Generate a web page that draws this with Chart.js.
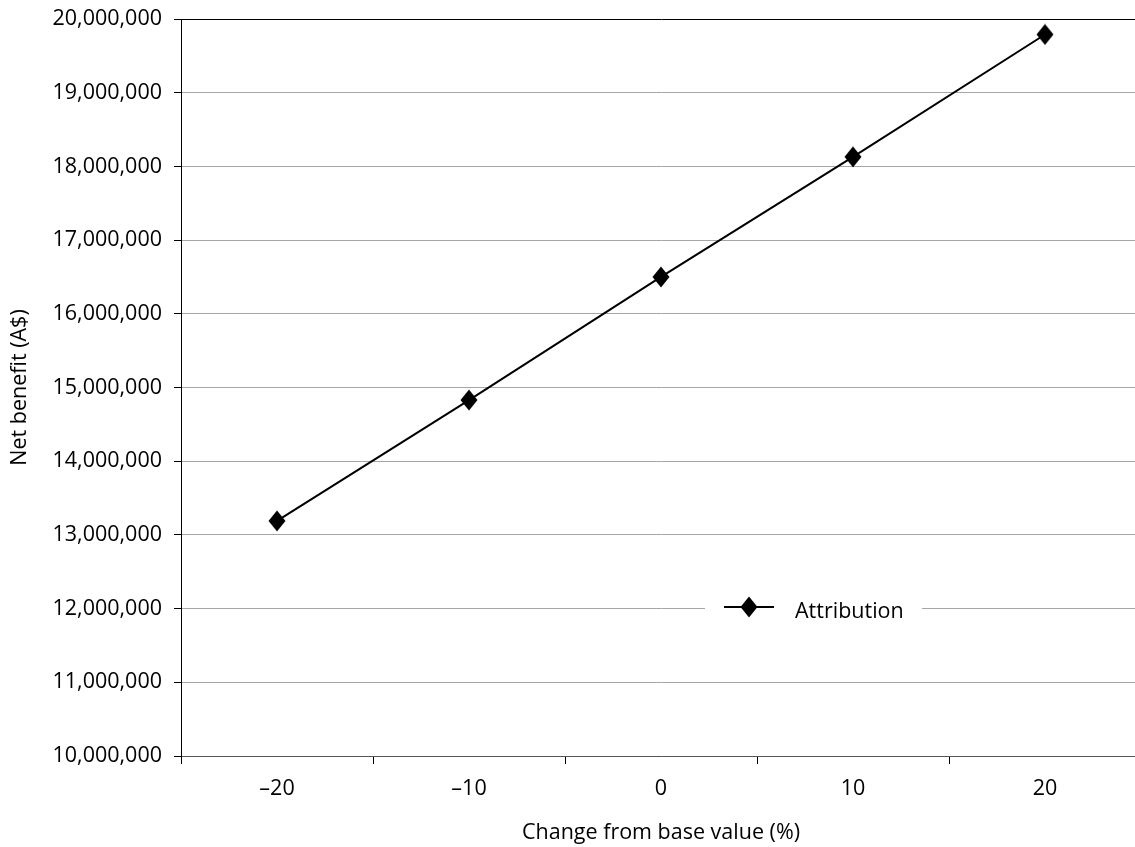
<!DOCTYPE html>
<html>
<head>
<meta charset="utf-8">
<title>Net benefit sensitivity</title>
<script src="https://cdn.jsdelivr.net/npm/chart.js@4.4.1/dist/chart.umd.min.js"></script>
<style>
    html, body { margin: 0; padding: 0; background: #fff; overflow: hidden; }
    canvas { display: block; }
</style>
</head>
<body>
<canvas id="sensChart" width="1152" height="847"></canvas>
<script>
// Data
const changes = ['\u201320', '\u201310', '0', '10', '20'];
const netBenefit = [13190000, 14830000, 16500000, 18130000, 19790000];
const seriesLabel = 'Attribution';
const yMin = 10000000;
const yMax = 20000000;
const yStep = 1000000;

// Diamond marker (optionally with a line through it for the legend)
function makeMarker(lineLen) {
    const w = Math.max(lineLen, 18), h = 22;
    const c = document.createElement('canvas');
    c.width = w;
    c.height = h;
    const g = c.getContext('2d');
    if (lineLen) {
        g.strokeStyle = '#000';
        g.lineWidth = 2;
        g.beginPath();
        g.moveTo(0, h / 2);
        g.lineTo(w, h / 2);
        g.stroke();
    }
    g.fillStyle = '#000';
    g.beginPath();
    g.moveTo(w / 2, 0.5);
    g.lineTo(w / 2 + 8.5, h / 2);
    g.lineTo(w / 2, h - 0.5);
    g.lineTo(w / 2 - 8.5, h / 2);
    g.closePath();
    g.fill();
    return c;
}

const pointMarker = makeMarker(0);
const legendMarker = makeMarker(50);

// legend sits inside the plot, over the 12,000,000 gridline
const legendBox = { x: 705, y: 591, w: 217, h: 36 };

const insideLegend = {
    id: 'insideLegend',
    afterDraw(chart) {
        const ctx = chart.ctx;
        const cy = legendBox.y + legendBox.h / 2;
        ctx.save();
        ctx.fillStyle = '#fff';
        ctx.fillRect(legendBox.x, legendBox.y, legendBox.w, legendBox.h);
        ctx.drawImage(legendMarker, legendBox.x + 19, cy - legendMarker.height / 2 - 2);
        ctx.fillStyle = '#000';
        ctx.font = '21.5px "Open Sans", sans-serif';
        ctx.textBaseline = 'middle';
        ctx.fillText(chart.data.datasets[0].label, legendBox.x + 90, cy + 3);
        ctx.restore();
    }
};

Chart.defaults.font.family = '"Open Sans", sans-serif';
Chart.defaults.font.size = 21.5;
Chart.defaults.color = '#000';

new Chart(document.getElementById('sensChart'), {
    type: 'line',
    data: {
        labels: changes,
        datasets: [{
            label: seriesLabel,
            data: netBenefit,
            borderColor: '#000',
            borderWidth: 2,
            pointStyle: pointMarker,
            pointRadius: 9,
            tension: 0,
            fill: false
        }]
    },
    options: {
        responsive: false,
        animation: false,
        layout: { padding: 0 },
        plugins: {
            legend: { display: false },
            tooltip: { enabled: false }
        },
        scales: {
            x: {
                offset: true,
                grid: {
                    offset: true,
                    drawOnChartArea: false,
                    tickLength: 8,
                    tickColor: '#000'
                },
                border: { color: '#555', width: 1 },
                ticks: { padding: 12 },
                title: {
                    display: true,
                    text: 'Change from base value (%)',
                    padding: { top: 0, bottom: 1 }
                },
                afterFit(scale) { scale.height = 91; }
            },
            y: {
                min: yMin,
                max: yMax,
                grid: {
                    color: (c) => c.tick && c.tick.value === yMax ? '#000' : '#a6a6a6',
                    tickColor: '#000',
                    tickLength: 7,
                    lineWidth: 1
                },
                border: { color: '#000', width: 1 },
                ticks: {
                    stepSize: yStep,
                    padding: 12,
                    callback: (v) => v.toLocaleString('en-US')
                },
                title: {
                    display: true,
                    text: 'Net benefit (A$)',
                    padding: { top: 7, bottom: 0 }
                },
                afterFit(scale) {
                    scale.width = 181;
                    scale.paddingTop = 19;
                }
            }
        }
    },
    plugins: [insideLegend]
});
</script>
</body>
</html>
